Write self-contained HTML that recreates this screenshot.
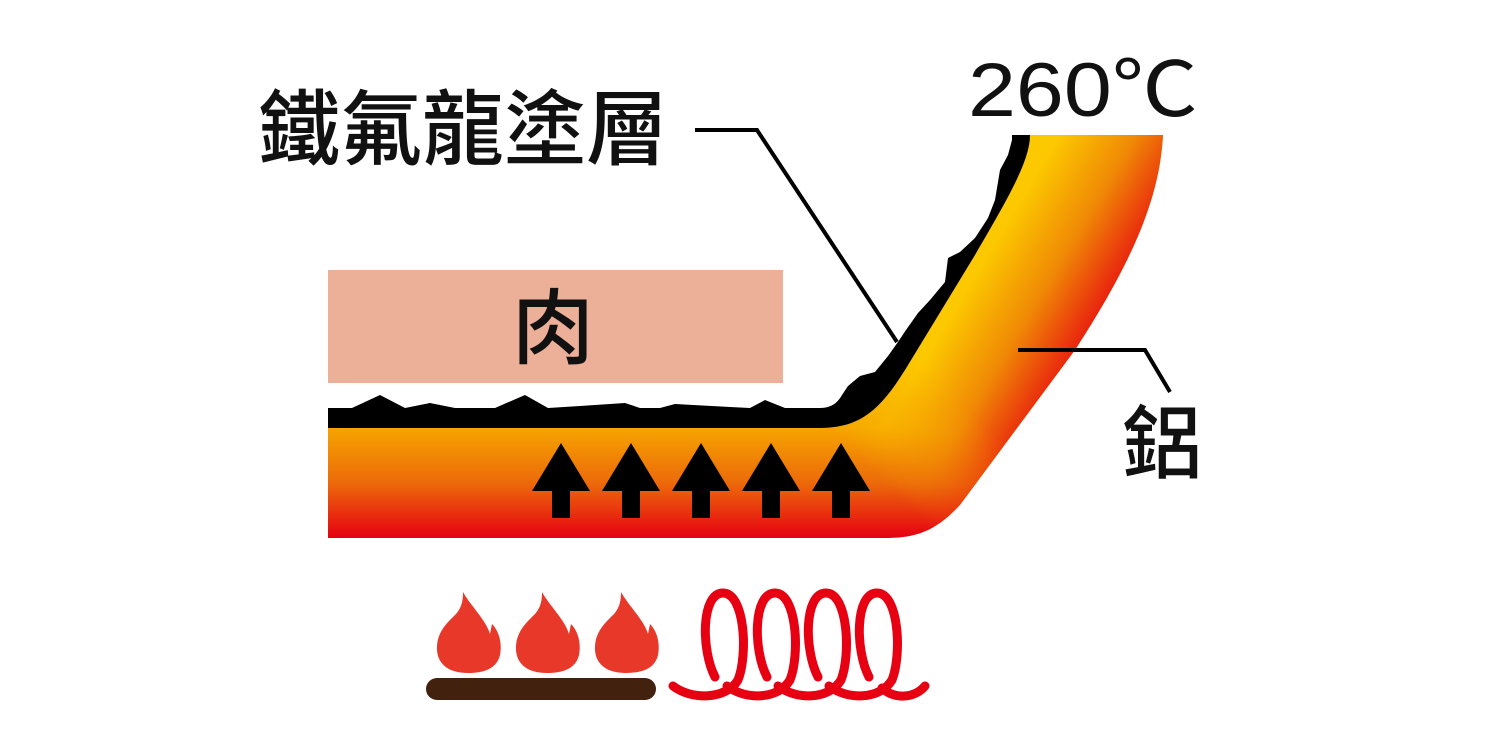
<!DOCTYPE html>
<html><head><meta charset="utf-8"><style>
html,body{margin:0;padding:0;background:#fff;width:1500px;height:750px;overflow:hidden}
svg{display:block}
</style></head><body>
<svg width="1500" height="750" viewBox="0 0 1500 750" xmlns="http://www.w3.org/2000/svg">
<defs>
<linearGradient id="gb" x1="0" y1="428" x2="0" y2="538" gradientUnits="userSpaceOnUse">
<stop offset="0" stop-color="#f6a400"/><stop offset="0.5" stop-color="#ec6a0a"/><stop offset="1" stop-color="#e60012"/>
</linearGradient>
<linearGradient id="gw" x1="960" y1="300" x2="1085" y2="375" gradientUnits="userSpaceOnUse">
<stop offset="0" stop-color="#fcc800"/><stop offset="0.45" stop-color="#f08a05"/><stop offset="1" stop-color="#e60012"/>
</linearGradient>
<linearGradient id="mg" x1="880" y1="480" x2="960" y2="400" gradientUnits="userSpaceOnUse">
<stop offset="0" stop-color="#000"/><stop offset="1" stop-color="#fff"/>
</linearGradient>
<mask id="mw" maskUnits="userSpaceOnUse" x="0" y="0" width="1500" height="750"><rect x="0" y="0" width="1500" height="750" fill="url(#mg)"/></mask>
</defs>
<rect x="328" y="270" width="455" height="113" fill="#ecaf98"/>
<text x="553" y="357" font-family="Liberation Sans, Noto Sans CJK TC, sans-serif" font-size="82" font-weight="500" text-anchor="middle" fill="#111">肉</text>
<path d="M328,428 L820,428 C860,428 880,410 905,370 L975,255 C1010,195 1030,160 1030,135 L1163,135 C1160,190 1140,250 1075,350 L960,505 C935,532 915,538 885,538 L328,538 Z" fill="url(#gb)"/>
<path d="M328,428 L820,428 C860,428 880,410 905,370 L975,255 C1010,195 1030,160 1030,135 L1163,135 C1160,190 1140,250 1075,350 L960,505 C935,532 915,538 885,538 L328,538 Z" fill="url(#gw)" mask="url(#mw)"/>
<path d="M328,428 L328,408 L352,408 L380,395 L405,408 L430,403 L455,408 L495,408 L525,395 L548,408 L580,406 L625,403 L640,408 L660,408 L675,404 L730,407 L750,408 L765,400 L785,408 L820,408 C832,408 838,402 842,395 L848,386 L860,376 L875,372 L888,356 L898,342 L906,330 L918,313 L930,300 L945,282 L948,258 L960,252 L975,238 L988,218 L995,200 L1000,170 L1008,155 L1012,140 L1012,135 L1030,135 C1030,160 1010,195 975,255 L905,370 C880,410 860,428 820,428 Z" fill="#000"/>
<g fill="#000">
<g transform="translate(561,0)"><polygon points="0,443 -29,491 29,491"/><rect x="-9" y="490" width="18" height="28"/></g>
<g transform="translate(631,0)"><polygon points="0,443 -29,491 29,491"/><rect x="-9" y="490" width="18" height="28"/></g>
<g transform="translate(701,0)"><polygon points="0,443 -29,491 29,491"/><rect x="-9" y="490" width="18" height="28"/></g>
<g transform="translate(771,0)"><polygon points="0,443 -29,491 29,491"/><rect x="-9" y="490" width="18" height="28"/></g>
<g transform="translate(841,0)"><polygon points="0,443 -29,491 29,491"/><rect x="-9" y="490" width="18" height="28"/></g>
</g>
<polyline points="695,130 757,130 897,342" fill="none" stroke="#000" stroke-width="4"/>
<polyline points="1018,350 1145,350 1170,392" fill="none" stroke="#000" stroke-width="4"/>
<text x="258" y="158" font-family="Liberation Sans, Noto Sans CJK TC, sans-serif" font-size="82" font-weight="500" fill="#111" textLength="410" lengthAdjust="spacingAndGlyphs">鐵氟龍塗層</text>
<text x="968" y="116" font-family="Liberation Sans, Noto Sans CJK TC, sans-serif" font-size="76" fill="#111" textLength="230" lengthAdjust="spacingAndGlyphs">260℃</text>
<text x="1122" y="472" font-family="Liberation Sans, Noto Sans CJK TC, sans-serif" font-size="80" font-weight="500" fill="#111">鋁</text>
<g fill="#e8382a">
<path d="M463,592 C470,605 486,620 490,634 L492,624 C500,632 502,645 500,655 C497,668 485,673 468,673 C451,673 438,666 437,650 C436,632 448,622 456,614 C462,607 463,600 463,592 Z"/>
<path d="M463,592 C470,605 486,620 490,634 L492,624 C500,632 502,645 500,655 C497,668 485,673 468,673 C451,673 438,666 437,650 C436,632 448,622 456,614 C462,607 463,600 463,592 Z" transform="translate(79,0)"/>
<path d="M463,592 C470,605 486,620 490,634 L492,624 C500,632 502,645 500,655 C497,668 485,673 468,673 C451,673 438,666 437,650 C436,632 448,622 456,614 C462,607 463,600 463,592 Z" transform="translate(158,0)"/>
</g>
<rect x="426" y="678" width="230" height="22" rx="11" fill="#42210f"/>
<g fill="none" stroke="#e60012" stroke-width="9" stroke-linecap="round">
<path d="M673,686 C691,700 726,700 738,680 C748,655 745,593 723,593 C701,593 701,650 715,677"/>
<path d="M727,686 C745,700 778,700 790,680 C800,655 797,593 775,593 C753,593 753,650 767,677"/>
<path d="M778,686 C796,700 829,700 841,680 C851,655 848,593 826,593 C804,593 804,650 818,677"/>
<path d="M829,686 C847,700 880,700 892,680 C902,655 899,593 877,593 C855,593 855,650 869,677"/>
<path d="M882,688 C895,700 915,698 925,686"/>
</g>
</svg>
</body></html>
